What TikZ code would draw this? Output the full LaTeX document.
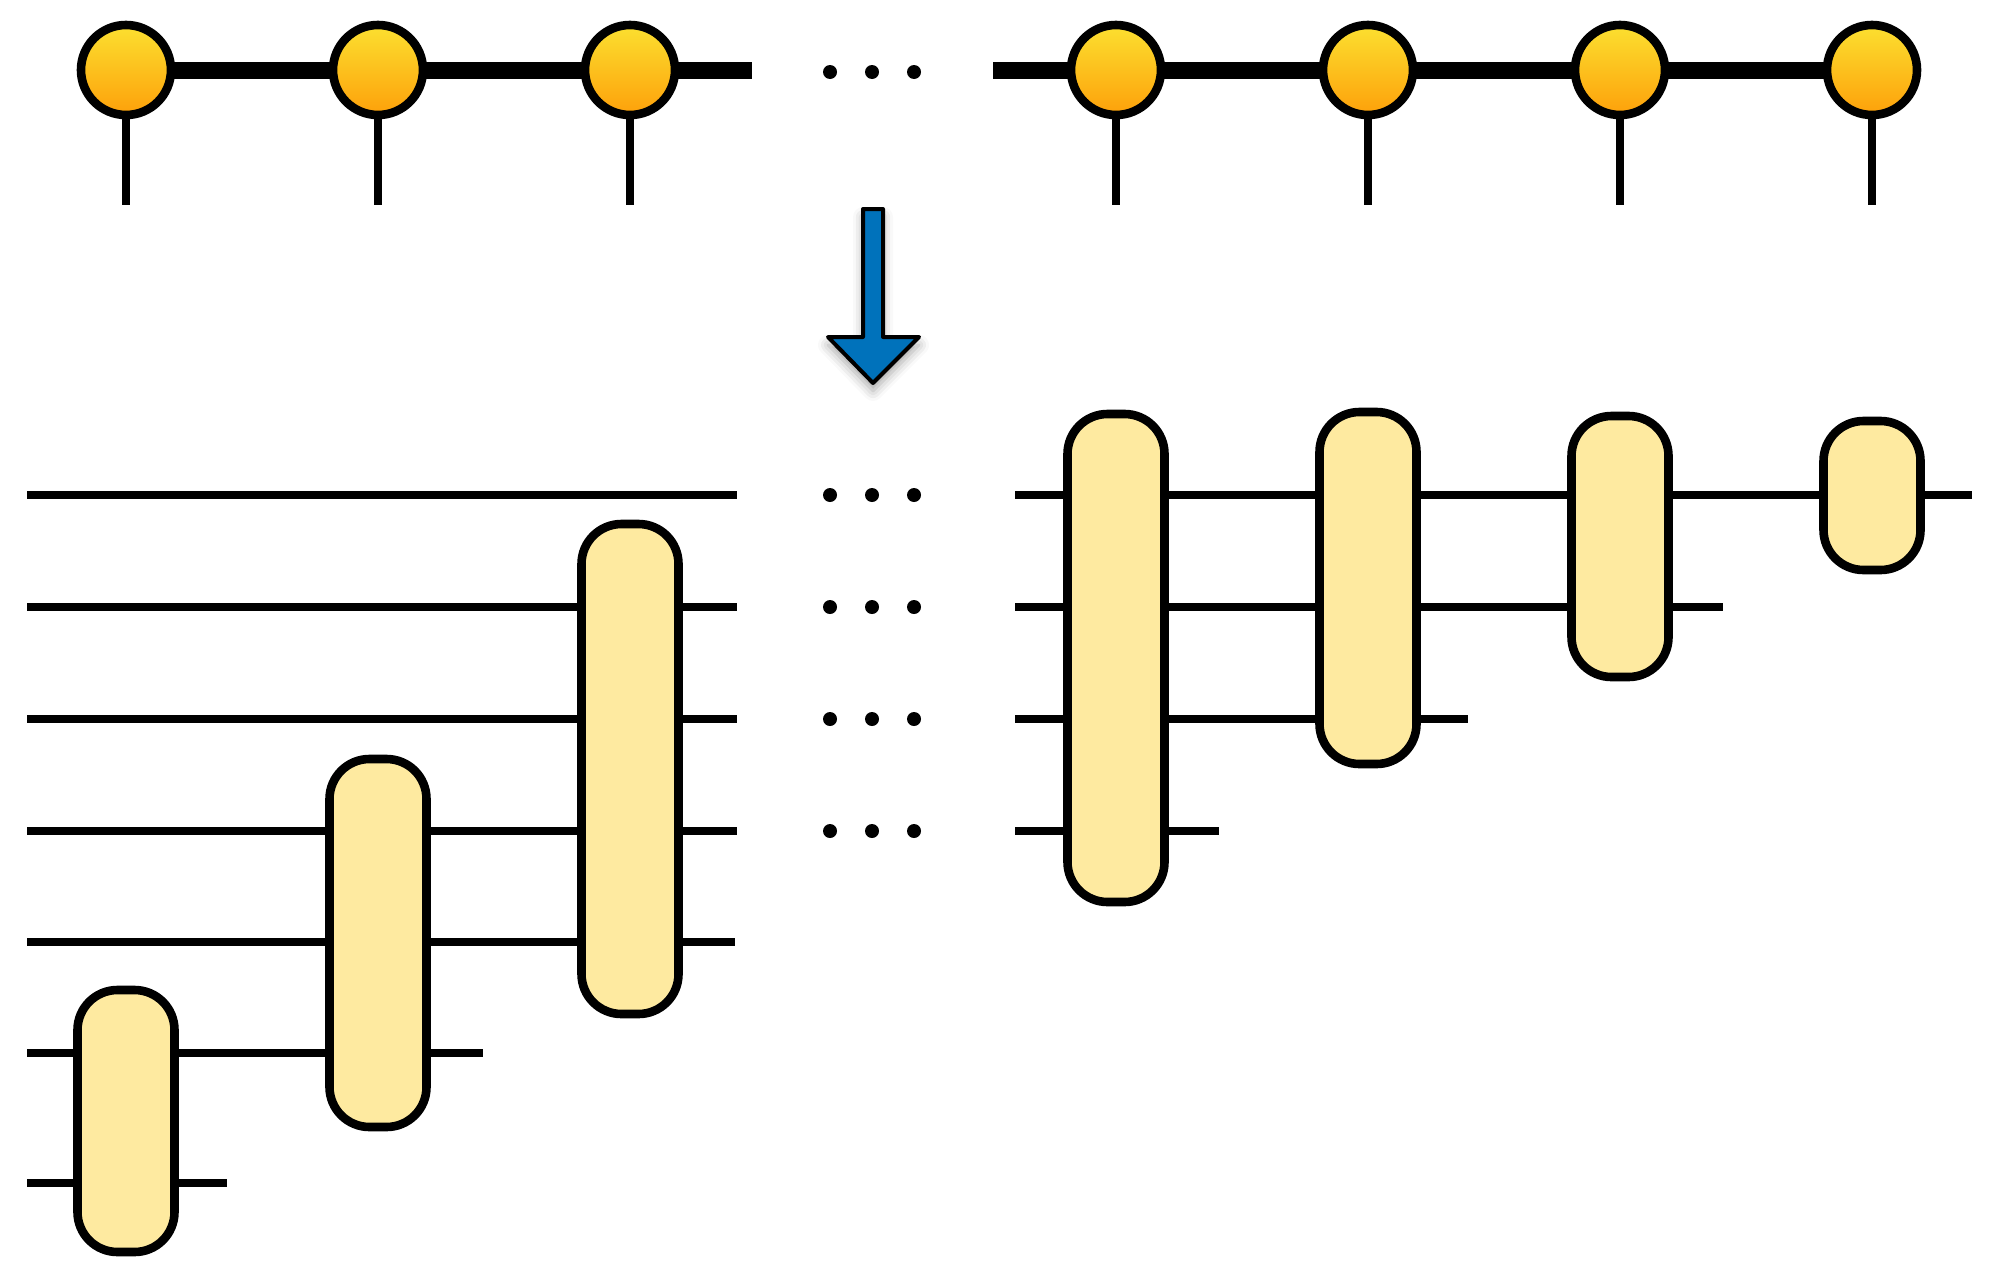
\documentclass[tikz,border=0pt]{standalone}
\usetikzlibrary{backgrounds,shadows.blur}
\definecolor{ytop}{RGB}{252,224,48}
\definecolor{ybot}{RGB}{253,160,10}
\definecolor{boxfill}{RGB}{254,234,160}
\definecolor{arrowblue}{RGB}{0,114,187}
\begin{document}
\begin{tikzpicture}[x=0.5pt,y=-0.5pt,
  site/.style={circle,draw=black,line width=4.3pt,minimum size=45pt,inner sep=0pt,top color=ytop,bottom color=ybot},
  gate/.style={rectangle,draw=black,line width=4.3pt,rounded corners=20pt,fill=boxfill,minimum width=48.5pt,inner sep=0pt},
  bond/.style={line width=8.5pt},
  wire/.style={line width=4pt},
  dotnode/.style={circle,fill=black,minimum size=7pt,inner sep=0pt}]
\useasboundingbox (0,0) rectangle (2007,1274);

% ---- MPS sites ----
\node[site] (s1) at (126,70) {};
\node[site] (s2) at (378,70) {};
\node[site] (s3) at (630,70) {};
\node[site] (s4) at (1116,70) {};
\node[site] (s5) at (1368,70) {};
\node[site] (s6) at (1620,70) {};
\node[site] (s7) at (1872,70) {};
\coordinate (bl) at (752,70);
\coordinate (br) at (993,70);
\foreach \i/\x in {1/126,2/378,3/630,4/1116,5/1368,6/1620,7/1872}{
  \coordinate (leg\i) at (\x,205);
}

% ---- dots ----
\foreach \r/\y in {0/72,1/495,2/607,3/719,4/831}{
  \node[dotnode] (da\r) at (830,\y) {};
  \node[dotnode] (db\r) at (872,\y) {};
  \node[dotnode] (dc\r) at (914,\y) {};
}

% ---- arrow ----
\draw[line width=2pt,line join=round,fill=arrowblue,
  blur shadow={shadow xshift=0pt,shadow yshift=-4pt,shadow blur radius=5pt,shadow opacity=35}]
  (863,209) -- (883,209) -- (883,337) -- (919,337) -- (873,383) -- (828,337) -- (863,337) -- cycle;

% ---- gates ----
\node[gate,minimum height=131pt] (L1) at (126,1121) {};
\node[gate,minimum height=184pt] (L2) at (378,943) {};
\node[gate,minimum height=245pt] (L3) at (630,769) {};
\node[gate,minimum height=244pt] (R1) at (1116,658) {};
\node[gate,minimum height=176pt] (R2) at (1368,588) {};
\node[gate,minimum height=130.5pt] (R3) at (1620,546.5) {};
\node[gate,minimum height=74.5pt] (R4) at (1872,495.5) {};

% wire end points
\foreach \i/\y/\xe in {1/495/737,2/607/737,3/719/737,4/831/737,5/942/735,6/1053/483,7/1183/227}{
  \coordinate (la\i) at (27,\y);
  \coordinate (lb\i) at (\xe,\y);
}
\foreach \i/\y/\xe in {1/495/1972,2/607/1723,3/719/1468,4/831/1219}{
  \coordinate (ra\i) at (1015,\y);
  \coordinate (rb\i) at (\xe,\y);
}

\begin{scope}[on background layer]
  \draw[bond] (s1.center) -- (bl);
  \draw[bond] (br) -- (s7.center);
  \foreach \i in {1,...,7}{ \draw[wire] (s\i.south) -- (leg\i); }
  \foreach \i in {1,...,7}{ \draw[wire] (la\i) -- (lb\i); }
  \foreach \i in {1,...,4}{ \draw[wire] (ra\i) -- (rb\i); }
\end{scope}
\end{tikzpicture}
\end{document}
